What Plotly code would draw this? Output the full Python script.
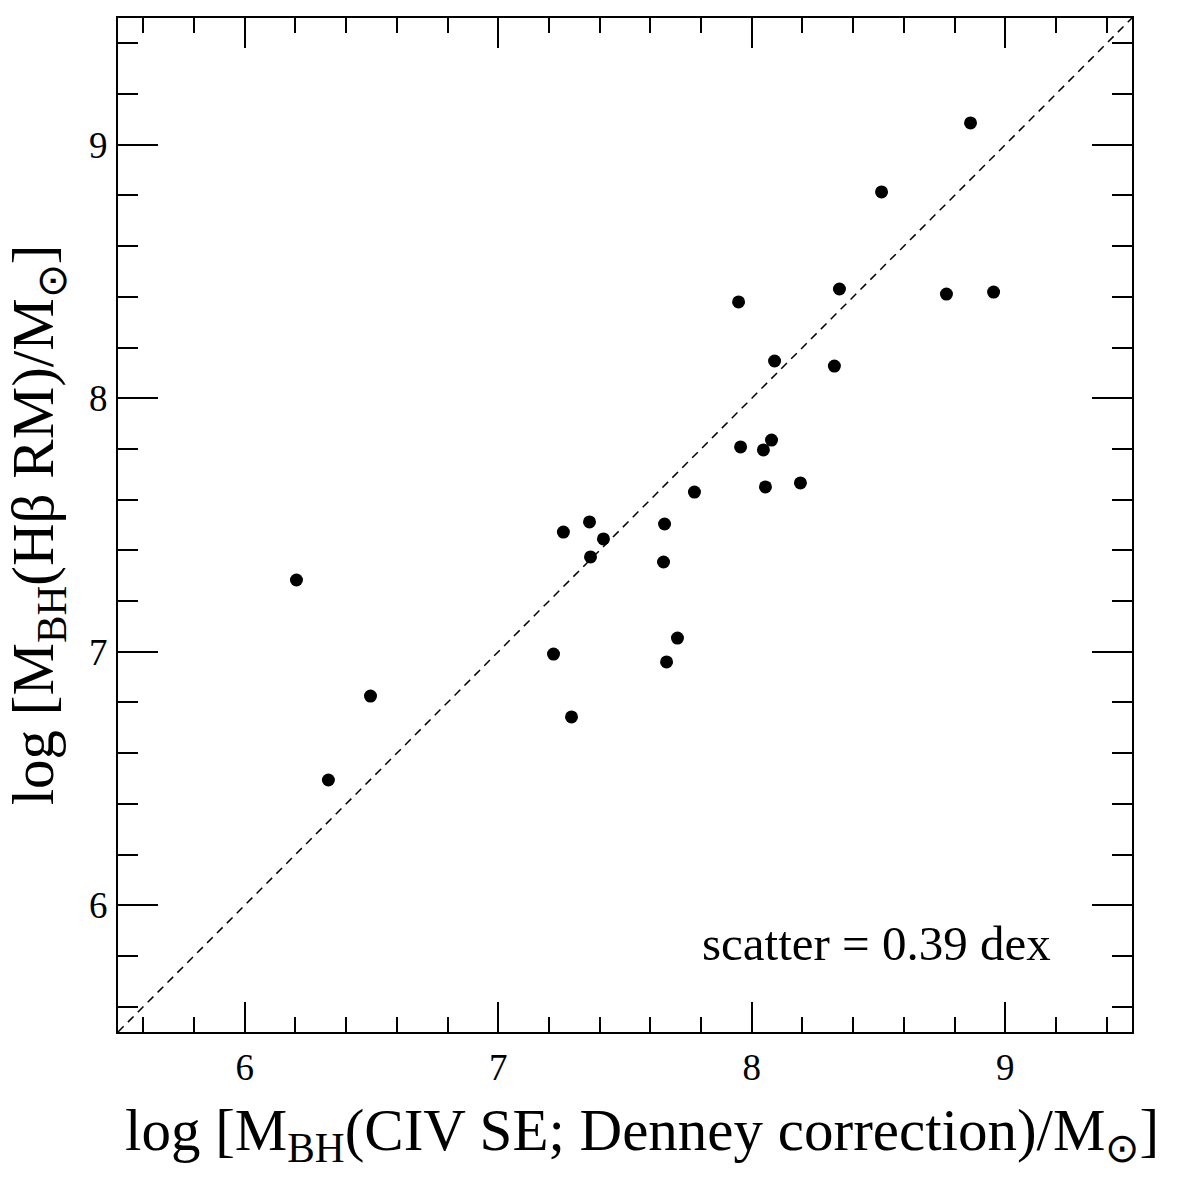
import plotly.graph_objects as go

x_civ = [8.863, 8.512, 7.948, 8.346, 8.768, 8.954, 8.090, 8.326, 7.956, 8.078,
         8.046, 8.054, 8.192, 7.774, 7.656, 7.360, 7.257, 7.415, 7.364, 7.652,
         7.707, 7.664, 7.218, 7.289, 6.204, 6.496, 6.330]
y_hb = [9.086, 8.814, 8.380, 8.431, 8.411, 8.419, 8.147, 8.127, 7.808, 7.835,
        7.796, 7.650, 7.666, 7.630, 7.504, 7.512, 7.472, 7.445, 7.374, 7.354,
        7.054, 6.960, 6.991, 6.743, 7.283, 6.825, 6.494]
one_to_one = [5.5, 9.5]
tick_vals = [6, 7, 8, 9]
tick_text = ["6", "7", "8", "9"]
scatter_label = "scatter = 0.39 dex"
x_title = "log [M<sub>BH</sub>(CIV SE; Denney correction)/M<sub>⊙</sub>]"
y_title = "log [M<sub>BH</sub>(Hβ RM)/M<sub>⊙</sub>]"

FONT = "Liberation Serif, Times New Roman, serif"

fig = go.Figure()
fig.add_trace(go.Scatter(x=one_to_one, y=one_to_one, mode="lines",
                         line=dict(color="black", width=1.5, dash="8px,6px"),
                         showlegend=False, hoverinfo="skip"))
fig.add_trace(go.Scatter(x=x_civ, y=y_hb, mode="markers",
                         marker=dict(color="black", size=13),
                         showlegend=False))

fig.add_annotation(x=9.19, y=5.85, xref="x", yref="y", text=scatter_label,
                   showarrow=False, xanchor="right", yanchor="middle",
                   font=dict(family=FONT, size=49, color="black"))

fig.add_annotation(x=0.5168, y=-0.101, xref="paper", yref="paper", text=x_title,
                   showarrow=False, xanchor="center", yanchor="middle",
                   font=dict(family=FONT, size=59, color="black"))

axis_common = dict(range=[5.5, 9.5], showgrid=False, zeroline=False,
                   showline=True, linecolor="black", linewidth=2,
                   mirror="ticks", ticks="inside", tickcolor="black",
                   tickwidth=2, tickvals=tick_vals, ticktext=tick_text,
                   tickfont=dict(family=FONT, size=37, color="black"))

fig.update_xaxes(**axis_common, ticklen=30,
                 minor=dict(dtick=0.2, tick0=5.6, ticklen=15, ticks="inside",
                            tickcolor="black", tickwidth=2),
                 ticklabelstandoff=2)
fig.update_yaxes(**axis_common, ticklen=40,
                 minor=dict(dtick=0.2, tick0=5.6, ticklen=20, ticks="inside",
                            tickcolor="black", tickwidth=2),
                 ticklabelstandoff=1,
                 title=dict(text=y_title,
                            font=dict(family=FONT, size=59, color="black"),
                            standoff=16))

fig.update_layout(width=1180, height=1180, paper_bgcolor="white",
                  plot_bgcolor="white",
                  margin=dict(l=118, r=48, t=18, b=148, autoexpand=False))

fig.write_html("out.html")
